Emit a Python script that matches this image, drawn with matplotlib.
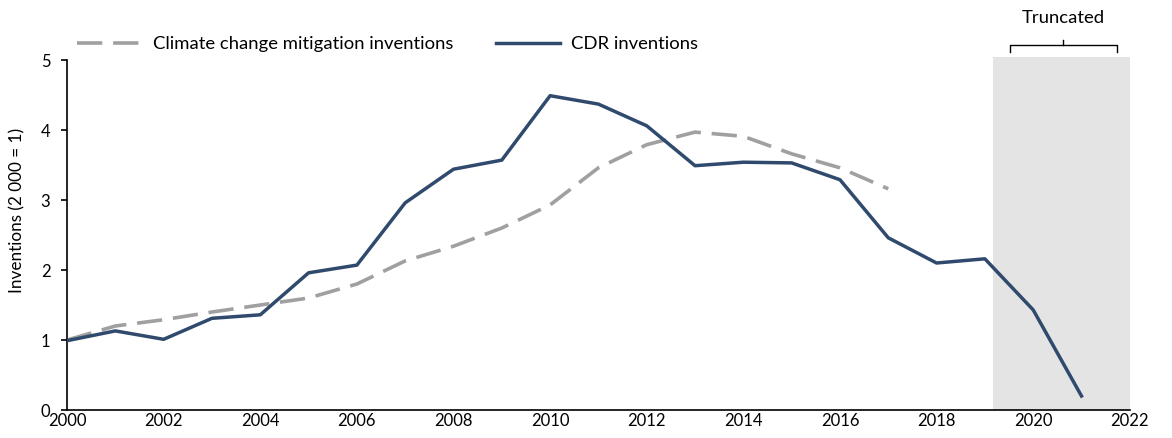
import matplotlib.pyplot as plt
from matplotlib.patches import Rectangle

plt.rcParams['font.family'] = ['Lato', 'DejaVu Sans']

years_cdr = list(range(2000, 2022))
cdr = [0.99, 1.13, 1.01, 1.31, 1.36, 1.96, 2.07, 2.96, 3.44, 3.57, 4.49,
       4.37, 4.06, 3.49, 3.54, 3.53, 3.29, 2.46, 2.10, 2.16, 1.43, 0.20]

years_ccm = list(range(2000, 2018))
ccm = [1.00, 1.20, 1.29, 1.40, 1.50, 1.60, 1.80, 2.13, 2.34, 2.60, 2.93,
       3.46, 3.79, 3.97, 3.91, 3.66, 3.46, 3.16]

x_ticks = list(range(2000, 2023, 2))
y_ticks = [0, 1, 2, 3, 4, 5]
trunc_start, trunc_end = 2019.17, 2022

fig = plt.figure(figsize=(11.72, 4.38), dpi=100)
ax = fig.add_axes([0.0572, 0.0639, 0.9068, 0.7991])

# truncated area, goes a bit above the top of the axis
ax.add_patch(Rectangle((trunc_start, 0), trunc_end - trunc_start, 5.05,
                       facecolor='#e4e4e4', edgecolor='none', clip_on=False, zorder=0))

ax.plot(years_ccm, ccm, color='#a0a0a0', lw=2.6, dashes=(7, 3),
        label='Climate change mitigation inventions', zorder=2)
ax.plot(years_cdr, cdr, color='#2f4a6d', lw=2.5,
        label='CDR inventions', zorder=3)

ax.set_xlim(2000, 2022)
ax.set_ylim(0, 5)
ax.set_xticks(x_ticks)
ax.set_yticks(y_ticks)
ax.tick_params(axis='both', labelsize=12, length=4, width=1.2)
ax.tick_params(axis='x', length=0, pad=2)
ax.tick_params(axis='y', pad=8)
ax.spines['top'].set_visible(False)
ax.spines['right'].set_visible(False)
ax.spines['left'].set_linewidth(1.2)
ax.spines['bottom'].set_linewidth(1.2)
ax.set_ylabel('Inventions (2 000 = 1)', fontsize=12.3)
ax.yaxis.set_label_coords(-0.039, 0.57)

# bracket over the truncated part
bx0, bx1 = 2019.52, 2021.73
bm = (bx0 + bx1) / 2
by0, by1 = 5.12, 5.22
ax.plot([bx0, bx0, bx1, bx1], [by0, by1, by1, by0], color='black', lw=1, clip_on=False)
ax.plot([bm, bm], [by1, by1 + 0.07], color='black', lw=1, clip_on=False)
ax.text(bm, 5.6, 'Truncated', ha='center', va='center', fontsize=13.3)

ax.legend(loc='lower left', bbox_to_anchor=(-0.001, 0.99), ncol=2, frameon=False,
          fontsize=13.3, handlelength=3.5, columnspacing=2.3, borderaxespad=0.2,
          handletextpad=0.6)

fig.savefig('out.png', dpi=100)
